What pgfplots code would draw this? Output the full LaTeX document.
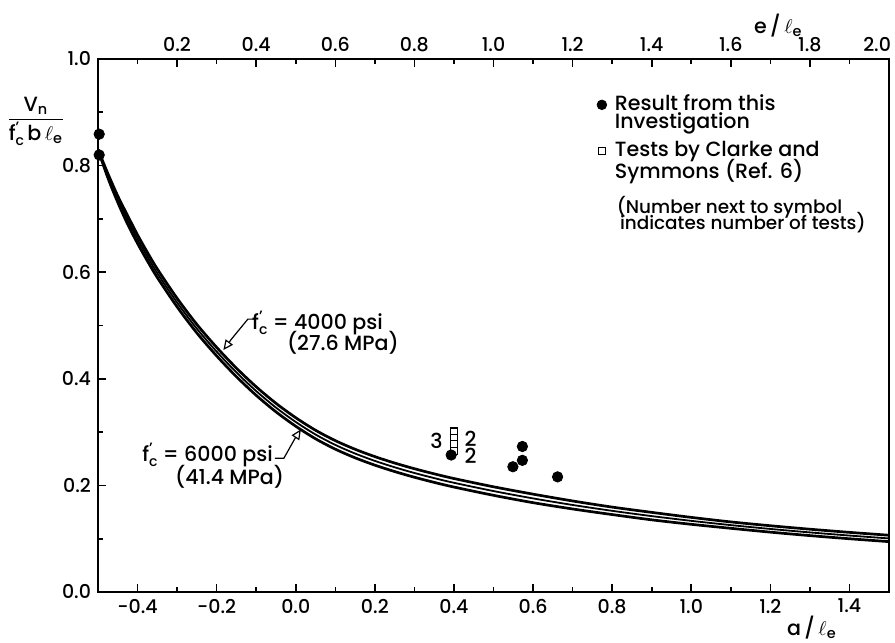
\documentclass[border=0pt]{standalone}
\usepackage{pgfplots}
\pgfplotsset{compat=1.18}
\usetikzlibrary{arrows.meta}
\usepackage{amsmath}
\usepackage{fontspec}
\setmainfont{Poppins}[UprightFont=* Medium]
\newcommand{\fc}{f\rlap{\raisebox{0.7ex}{\fontsize{7.5bp}{8bp}\selectfont '}}\raisebox{-0.45ex}{\fontsize{7bp}{8bp}\selectfont c}}
\begin{document}
\begin{tikzpicture}[font=\fontsize{10.3bp}{12bp}\selectfont]
\begin{axis}[
  scale only axis, width=395.5bp, height=266.5bp,
  xmin=-0.5, xmax=1.5, ymin=0, ymax=1.0,
  axis line style={line width=1bp},
  tick pos=left, tick align=inside,
  xtick={-0.4,-0.2,0,0.2,0.4,0.6,0.8,1.0,1.2,1.4},
  xticklabels={-0.4,-0.2,0.0,0.2,0.4,0.6,0.8,1.0,1.2,1.4},
  minor xtick={-0.3,-0.1,0.1,0.3,0.5,0.7,0.9,1.1,1.3},
  ytick={0,0.2,0.4,0.6,0.8,1.0},
  yticklabels={0.0,0.2,0.4,0.6,0.8,1.0},
  minor ytick={0.1,0.3,0.5,0.7,0.9},
  major tick length=4bp, minor tick length=2.7bp,
  every tick/.style={black, line width=0.8bp},
  tick label style={font=\fontsize{9.5bp}{11bp}\selectfont},
  clip=false,
]
% curves (upper, middle, lower line of the band)
\addplot[black, line width=1.35bp, smooth, tension=0.5] coordinates {
(-0.500,0.830)(-0.475,0.785)(-0.450,0.743)(-0.425,0.706)(-0.400,0.670)(-0.375,0.637)(-0.350,0.606)(-0.300,0.551)(-0.250,0.502)(-0.200,0.459)(-0.150,0.420)(-0.100,0.385)(-0.050,0.354)(0.000,0.3270)(0.050,0.3035)(0.100,0.2840)(0.150,0.2678)(0.200,0.2540)(0.250,0.2420)(0.300,0.2313)(0.350,0.2217)(0.400,0.2129)(0.500,0.1974)(0.600,0.1836)(0.700,0.1708)(0.800,0.1593)(0.900,0.1494)(1.000,0.1400)(1.100,0.1315)(1.200,0.1243)(1.300,0.1178)(1.400,0.1119)(1.500,0.1065)};
\addplot[black, line width=0.9bp, smooth, tension=0.5] coordinates {
(-0.500,0.830)(-0.475,0.781)(-0.450,0.737)(-0.425,0.698)(-0.400,0.662)(-0.375,0.629)(-0.350,0.598)(-0.300,0.543)(-0.250,0.494)(-0.200,0.451)(-0.150,0.412)(-0.100,0.377)(-0.050,0.346)(0.000,0.3190)(0.050,0.2955)(0.100,0.2760)(0.150,0.2598)(0.200,0.2460)(0.250,0.2340)(0.300,0.2233)(0.350,0.2137)(0.400,0.2049)(0.500,0.1894)(0.600,0.1756)(0.700,0.1633)(0.800,0.1523)(0.900,0.1424)(1.000,0.1335)(1.100,0.1255)(1.200,0.1183)(1.300,0.1118)(1.400,0.1059)(1.500,0.1005)};
\addplot[black, line width=1.35bp, smooth, tension=0.5] coordinates {
(-0.500,0.830)(-0.475,0.777)(-0.450,0.731)(-0.425,0.690)(-0.400,0.654)(-0.375,0.621)(-0.350,0.590)(-0.300,0.535)(-0.250,0.486)(-0.200,0.443)(-0.150,0.404)(-0.100,0.369)(-0.050,0.338)(0.000,0.3110)(0.050,0.2875)(0.100,0.2680)(0.150,0.2518)(0.200,0.2380)(0.250,0.2260)(0.300,0.2153)(0.350,0.2057)(0.400,0.1969)(0.500,0.1814)(0.600,0.1676)(0.700,0.1558)(0.800,0.1453)(0.900,0.1354)(1.000,0.1270)(1.100,0.1195)(1.200,0.1123)(1.300,0.1058)(1.400,0.0999)(1.500,0.0945)};
% Clarke and Symmons tests (open squares)
\addplot[only marks, mark=square*, mark size=1.8bp, mark options={fill=white, draw=black, line width=0.6bp}] coordinates {
(0.400,0.301)(0.400,0.289)(0.400,0.278)(0.400,0.265)};
% this investigation (filled circles)
\addplot[only marks, mark=*, mark size=2.6bp, black] coordinates {
(-0.497,0.859)(-0.497,0.820)(0.393,0.257)(0.573,0.273)(0.573,0.247)(0.549,0.235)(0.662,0.216)};
% legend markers
\addplot[only marks, mark=*, mark size=2.4bp, black] coordinates {(0.774,0.914)};
\addplot[only marks, mark=square*, mark size=1.8bp, mark options={fill=white, draw=black, line width=0.6bp}] coordinates {(0.774,0.827)};
% legend texts
\node[anchor=mid west, inner sep=0pt] at (axis cs:0.806,0.913) {Result from this};
\node[anchor=mid west, inner sep=0pt] at (axis cs:0.806,0.879) {Investigation};
\node[anchor=mid west, inner sep=0pt] at (axis cs:0.806,0.827) {Tests by Clarke and};
\node[anchor=mid west, inner sep=0pt] at (axis cs:0.806,0.787) {Symmons (Ref. 6)};
\node[anchor=mid west, inner sep=0pt, font=\fontsize{9.2bp}{10bp}\selectfont] at (axis cs:0.811,0.721) {(Number next to symbol};
\node[anchor=mid west, inner sep=0pt, font=\fontsize{9.2bp}{10bp}\selectfont] at (axis cs:0.819,0.690) {indicates number of tests)};
% counts
\node[inner sep=0pt] at (axis cs:0.356,0.283) {3};
\node[inner sep=0pt] at (axis cs:0.442,0.288) {2};
\node[inner sep=0pt] at (axis cs:0.442,0.255) {2};
% annotations
\node[anchor=mid west, inner sep=0pt] at (axis cs:-0.111,0.503) {\fc\ = 4000 psi};
\node[anchor=mid west, inner sep=0pt] at (axis cs:-0.023,0.464) {(27.6 MPa)};
\draw[line width=0.6bp, -{Triangle[open, length=5bp, width=4.5bp]}] (axis cs:-0.104,0.512) -- (axis cs:-0.121,0.512) -- (axis cs:-0.162,0.475) -- (axis cs:-0.183,0.454);
\node[anchor=mid west, inner sep=0pt] at (axis cs:-0.389,0.255) {\fc\ = 6000 psi};
\node[anchor=mid west, inner sep=0pt] at (axis cs:-0.306,0.212) {(41.4 MPa)};
\draw[line width=0.6bp, -{Triangle[open, length=5bp, width=4.5bp]}] (axis cs:-0.053,0.251) -- (axis cs:-0.030,0.251) -- (axis cs:-0.002,0.288) -- (axis cs:0.013,0.305);
% axis labels
\node at (axis cs:-0.657,0.883) {$\dfrac{\text{V}_{\text{n}}}{\text{\fc\,b}\,\ell_{\text{e}}}$};
\node at (axis cs:1.305,-0.067) {a\,/\,$\ell$\textsubscript{e}};
\node at (axis cs:1.22,1.062) {e\,/\,$\ell$\textsubscript{e}};
\coordinate (SW) at (rel axis cs:0,0);
\coordinate (NE) at (rel axis cs:1,1);
\end{axis}
\begin{axis}[
  scale only axis, width=395.5bp, height=266.5bp,
  xmin=0, xmax=2.0, ymin=0, ymax=1.0,
  axis x line*=top, axis y line=none,
  axis line style={line width=1bp},
  tick align=inside,
  xtick={0.2,0.4,0.6,0.8,1.0,1.2,1.4,1.6,1.8,2.0},
  xticklabels={0.2,0.4,0.6,0.8,1.0,1.2,1.4,1.6,1.8,{\hbox to 0pt{\hss 2.0\hskip-1bp}}},
  minor xtick={0.1,0.3,0.5,0.7,0.9,1.1,1.3,1.5,1.7,1.9},
  major tick length=4bp, minor tick length=2.7bp,
  every tick/.style={black, line width=0.8bp},
  tick label style={font=\fontsize{9.5bp}{11bp}\selectfont},
]
\end{axis}
\pgfresetboundingbox
\path[use as bounding box] ([shift={(-49bp,-25.5bp)}]SW) rectangle ([shift={(3bp,29.5bp)}]NE);
\end{tikzpicture}
\end{document}
